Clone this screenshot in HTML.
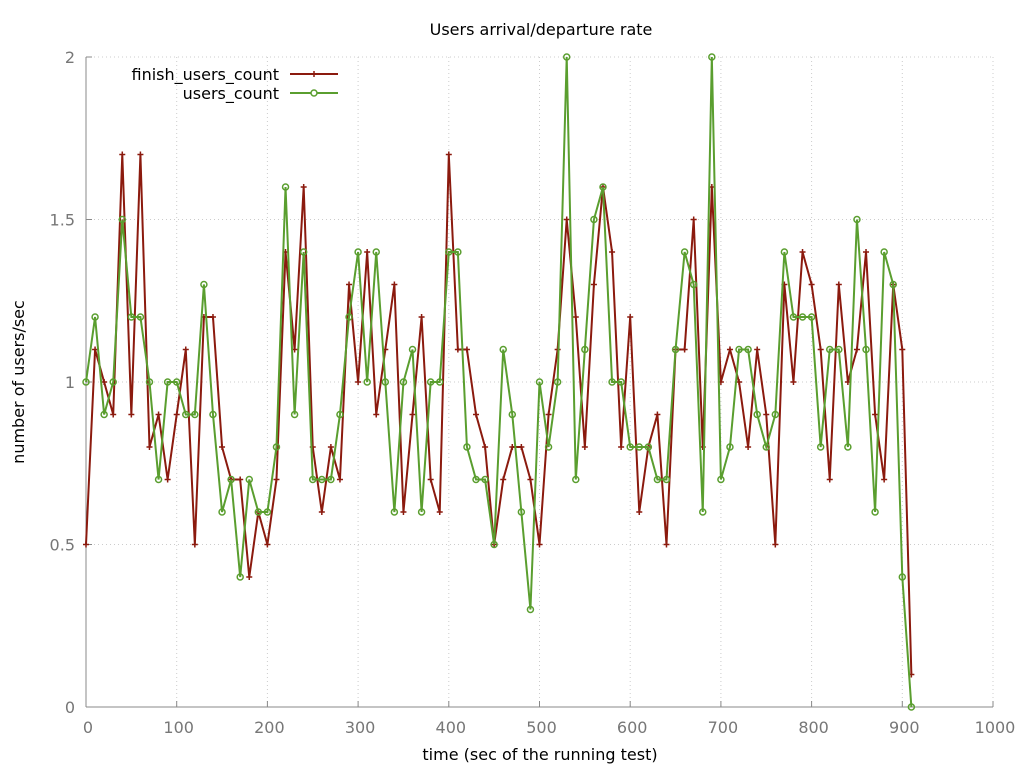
<!DOCTYPE html>
<html><head><meta charset="utf-8"><style>
html,body{margin:0;padding:0;background:#fff;}
svg text{font-family:"DejaVu Sans","Liberation Sans",sans-serif;}
</style></head><body>
<svg id="chart" width="1024" height="768" xmlns="http://www.w3.org/2000/svg"></svg>
<script>
const times = [0,10,20,30,40,50,60,70,80,90,100,110,120,130,140,150,160,170,180,190,200,210,220,230,240,250,260,270,280,290,300,310,320,330,340,350,360,370,380,390,400,410,420,430,440,450,460,470,480,490,500,510,520,530,540,550,560,570,580,590,600,610,620,630,640,650,660,670,680,690,700,710,720,730,740,750,760,770,780,790,800,810,820,830,840,850,860,870,880,890,900,910];
const finishUsers = [0.5,1.1,1.0,0.9,1.7,0.9,1.7,0.8,0.9,0.7,0.9,1.1,0.5,1.2,1.2,0.8,0.7,0.7,0.4,0.6,0.5,0.7,1.4,1.1,1.6,0.8,0.6,0.8,0.7,1.3,1.0,1.4,0.9,1.1,1.3,0.6,0.9,1.2,0.7,0.6,1.7,1.1,1.1,0.9,0.8,0.5,0.7,0.8,0.8,0.7,0.5,0.9,1.1,1.5,1.2,0.8,1.3,1.6,1.4,0.8,1.2,0.6,0.8,0.9,0.5,1.1,1.1,1.5,0.8,1.6,1.0,1.1,1.0,0.8,1.1,0.9,0.5,1.3,1.0,1.4,1.3,1.1,0.7,1.3,1.0,1.1,1.4,0.9,0.7,1.3,1.1,0.1];
const usersCount = [1.0,1.2,0.9,1.0,1.5,1.2,1.2,1.0,0.7,1.0,1.0,0.9,0.9,1.3,0.9,0.6,0.7,0.4,0.7,0.6,0.6,0.8,1.6,0.9,1.4,0.7,0.7,0.7,0.9,1.2,1.4,1.0,1.4,1.0,0.6,1.0,1.1,0.6,1.0,1.0,1.4,1.4,0.8,0.7,0.7,0.5,1.1,0.9,0.6,0.3,1.0,0.8,1.0,2.0,0.7,1.1,1.5,1.6,1.0,1.0,0.8,0.8,0.8,0.7,0.7,1.1,1.4,1.3,0.6,2.0,0.7,0.8,1.1,1.1,0.9,0.8,0.9,1.4,1.2,1.2,1.2,0.8,1.1,1.1,0.8,1.5,1.1,0.6,1.4,1.3,0.4,0.0];
const xTicks = [0,100,200,300,400,500,600,700,800,900,1000];
const yTicks = [0,0.5,1,1.5,2];
const yTickLabels = ["0","0.5","1","1.5","2"];

const NS="http://www.w3.org/2000/svg";
const svg=document.getElementById('chart');
const L=86,R=993,T=57,B=707;
const xs=v=>L+(v/1000)*(R-L);
const ys=v=>B-(v/2)*(B-T);
function mk(tag,attrs,parent){const e=document.createElementNS(NS,tag);for(const k in attrs)e.setAttribute(k,attrs[k]);(parent||svg).appendChild(e);return e;}

const grid=mk('g',{});


xTicks.forEach(t=>{if(t>0)mk('line',{x1:xs(t),x2:xs(t),y1:T,y2:B,stroke:'#ccc','stroke-dasharray':'1,3','stroke-width':1},grid);});
yTicks.forEach(t=>{if(t>0)mk('line',{x1:L,x2:R,y1:ys(t),y2:ys(t),stroke:'#ccc','stroke-dasharray':'1,3','stroke-width':1},grid);});

const axes=mk('g',{stroke:'#888','stroke-width':1,fill:'none'});


mk('line',{x1:L,x2:L,y1:T,y2:B},axes);
mk('line',{x1:L,x2:R,y1:B,y2:B},axes);

const xt=mk('g',{});


xTicks.forEach(t=>{
  mk('line',{x1:xs(t),x2:xs(t),y1:B,y2:B-6,stroke:'#888'},xt);
  const tx=mk('text',{x:xs(t)+2,y:B+26,'text-anchor':'middle','font-size':16,fill:'#777'},xt);
  tx.textContent=t;
});
const yt=mk('g',{});


yTicks.forEach((t,i)=>{
  mk('line',{x1:L,x2:L+6,y1:ys(t),y2:ys(t),stroke:'#888'},yt);
  const tx=mk('text',{x:L-11,y:ys(t)+6,'text-anchor':'end','font-size':16,fill:'#777'},yt);
  tx.textContent=yTickLabels[i];
});

const title=mk('text',{x:541,y:35,'text-anchor':'middle','font-size':16,fill:'#000'});


title.textContent='Users arrival/departure rate';
const xl=mk('text',{x:540,y:760,'text-anchor':'middle','font-size':16,fill:'#000'});


xl.textContent='time (sec of the running test)';
const yl=mk('text',{x:0,y:0,'text-anchor':'middle','font-size':16,fill:'#000',transform:'translate(24,382) rotate(-90)'});


yl.textContent='number of users/sec';

function series(vals,color,name,marker){
  const g=mk('g',{});
  
  
  const pts=vals.map((v,i)=>xs(times[i])+','+ys(v)).join(' ');
  mk('polyline',{points:pts,fill:'none',stroke:color,'stroke-width':2},g);
  vals.forEach((v,i)=>{
    const x=xs(times[i]),y=ys(v);
    if(marker==='plus'){
      mk('path',{d:`M${x-3},${y}H${x+3}M${x},${y-3}V${y+3}`,stroke:color,'stroke-width':1.5},g);
    }else{
      mk('circle',{cx:x,cy:y,r:3,fill:'none',stroke:color,'stroke-width':1.5},g);
    }
  });
}
series(finishUsers,'#8b1a0e','series-finish-users-count','plus');
series(usersCount,'#5a9e2f','series-users-count','circle');

const lg=mk('g',{});


const l1=mk('text',{x:279,y:80,'text-anchor':'end','font-size':16,fill:'#000'},lg);
l1.textContent='finish_users_count';
mk('line',{x1:290,x2:338,y1:74,y2:74,stroke:'#8b1a0e','stroke-width':2},lg);
mk('path',{d:'M311,74H317M314,71V77',stroke:'#8b1a0e','stroke-width':1.5},lg);
const l2=mk('text',{x:279,y:99,'text-anchor':'end','font-size':16,fill:'#000'},lg);
l2.textContent='users_count';
mk('line',{x1:290,x2:338,y1:93,y2:93,stroke:'#5a9e2f','stroke-width':2},lg);
mk('circle',{cx:314,cy:93,r:3,fill:'#fff',stroke:'#5a9e2f','stroke-width':1.5},lg);
</script>
</body></html>
